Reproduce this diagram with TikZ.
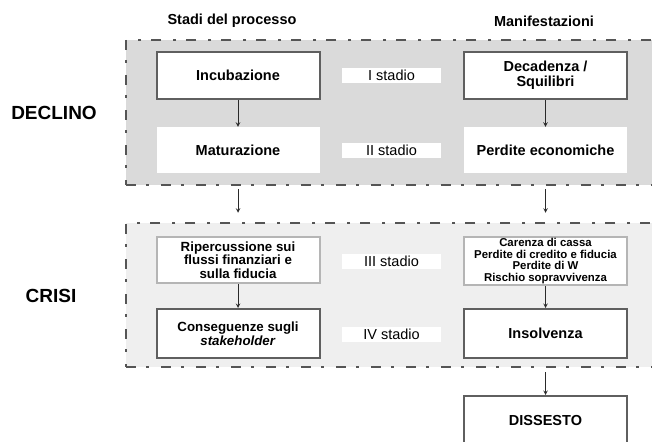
\documentclass[tikz,border=0pt]{standalone}
\usepackage{fontspec}
\setmainfont{Liberation Sans}
\definecolor{bordo}{HTML}{555555}
\definecolor{scuro}{HTML}{5F5F5F}
\definecolor{chiaro}{HTML}{B5B5B5}
\definecolor{grigio}{HTML}{DADADA}
\definecolor{grigino}{HTML}{EFEFEF}
\definecolor{tratto}{HTML}{2A2A2A}
\begin{document}
\begin{tikzpicture}[x=1pt,y=-1pt,>=stealth,
        gruppo/.style={draw=bordo, line width=2.5pt, dash pattern=on 10pt off 10pt on 3pt off 12pt, inner sep=0pt, minimum width=540pt},
        scatola/.style={fill=white, inner sep=0pt, minimum width=163pt, minimum height=47pt, align=center, font=\fontsize{14.5}{15.5}\selectfont\bfseries},
        scura/.style={scatola, draw=scuro, line width=2pt},
        chiara/.style={scatola, draw=chiaro, line width=2pt},
        stadio/.style={fill=white, inner sep=0pt, minimum width=99pt, minimum height=15pt, font=\fontsize{14.5}{15.5}\selectfont},
        fase/.style={font=\fontsize{19}{19}\selectfont\bfseries},
        freccia/.style={->, line width=1pt, draw=tratto}]
        \useasboundingbox (0,0) rectangle (652,441);
        \clip (0,0) rectangle (652,441);

        \node[font=\fontsize{14.5}{15.5}\selectfont\bfseries] (hstadi) at (232,21) {Stadi del processo};
        \node[font=\fontsize{14.5}{15.5}\selectfont\bfseries] (hmanif) at (544,21) {Manifestazioni};

        % declino
        \node[gruppo, fill=grigio, minimum height=145pt] (declino) at (396,112.5) {};
        \node[fase] (ldeclino) at (54,113) {DECLINO};
        \node[scura] (incub) at (238,75.5) {Incubazione};
        \node[scatola, minimum height=46pt] (matur) at (238,150) {Maturazione};
        \node[scura] (decad) at (545.5,75.5) {Decadenza /\\Squilibri};
        \node[scatola, minimum height=46pt] (perdite) at (545.5,150) {Perdite economiche};
        \node[stadio] (st1) at (391.5,75.5) {I stadio};
        \node[stadio] (st2) at (391.5,150) {II stadio};

        % crisi
        \node[gruppo, fill=grigino, minimum height=144pt] (crisi) at (396,295) {};
        \node[fase] (lcrisi) at (51,296) {CRISI};
        \node[chiara, minimum height=46pt, font=\fontsize{13.3}{13.5}\selectfont\bfseries] (riperc) at (238,260) {Ripercussione sui\\flussi finanziari e\\sulla fiducia};
        \node[scura, minimum height=49pt, font=\fontsize{13.3}{13.5}\selectfont\bfseries] (conseg) at (238,333.5) {Conseguenze sugli\\\textit{stakeholder}};
        \node[chiara, minimum height=48pt, font=\fontsize{11.4}{11.7}\selectfont\bfseries] (carenza) at (545.5,261) {Carenza di cassa\\Perdite di credito e fiducia\\Perdite di W\\Rischio sopravvivenza};
        \node[scura, minimum height=49pt] (insolv) at (545.5,333.5) {Insolvenza};
        \node[stadio] (st3) at (391.5,261.5) {III stadio};
        \node[stadio] (st4) at (391.5,334) {IV stadio};

        \node[scura, minimum height=50pt] (dissesto) at (545.5,421) {DISSESTO};

        \draw[freccia] (incub) -- (matur);
        \draw[freccia] (decad) -- (perdite);
        \draw[freccia] ([yshift=-3pt]declino.south -| matur.south) -- ([yshift=9pt]crisi.north -| riperc.north);
        \draw[freccia] ([yshift=-3pt]declino.south -| perdite.south) -- ([yshift=9pt]crisi.north -| carenza.north);
        \draw[freccia] (riperc) -- (conseg);
        \draw[freccia] (carenza) -- (insolv);
        \draw[freccia] ([yshift=-4pt]crisi.south -| insolv.south) -- (dissesto);
\end{tikzpicture}
\end{document}
